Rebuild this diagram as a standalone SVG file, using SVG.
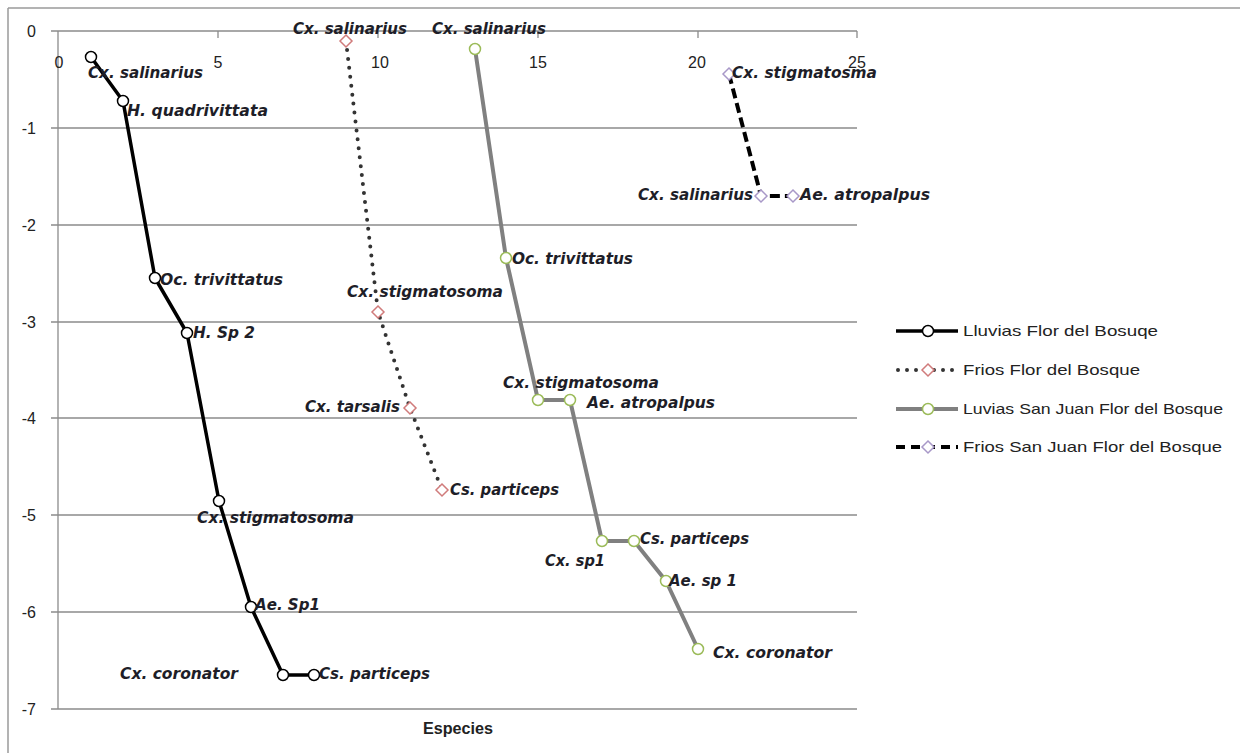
<svg xmlns="http://www.w3.org/2000/svg" width="1247" height="753" viewBox="0 0 1247 753">
<style>
.grid{stroke:#8c8c8c;stroke-width:1.3;fill:none}
.tick{font-family:"Liberation Sans",Arial,sans-serif;font-size:16px;fill:#222}
.lbl{font-family:"DejaVu Sans","Liberation Sans",sans-serif;font-size:15.5px;font-weight:bold;font-style:italic;fill:#1e1e28}
.leg{font-family:"Liberation Sans",Arial,sans-serif;font-size:15px;fill:#222}
.s1{stroke:#000;stroke-width:3.5;fill:none;stroke-linejoin:round}
.s2{stroke:#333;stroke-width:4;fill:none;stroke-dasharray:0 9;stroke-linecap:round}
.s3{stroke:#808080;stroke-width:4;fill:none;stroke-linejoin:round}
.s4{stroke:#000;stroke-width:4;fill:none;stroke-dasharray:10 5}
.m1{fill:#fff;stroke:#000;stroke-width:1.5}
.m2{fill:#fff;stroke:#d07b7b;stroke-width:1.5}
.m3{fill:#fff;stroke:#9bbb59;stroke-width:1.5}
.m4{fill:#fff;stroke:#a898c8;stroke-width:1.5}
</style>
<defs>
<circle id="c" r="5.5"/>
<path id="d" d="M0,-6 L6,0 L0,6 L-6,0 Z"/>
</defs>
<rect width="1247" height="753" fill="#fff"/>
<g id="frame">
<line x1="8" y1="8" x2="1240" y2="8" stroke="#9a9a9a" stroke-width="1.5"/>
<line x1="8" y1="8" x2="8" y2="753" stroke="#9a9a9a" stroke-width="1.5"/>
</g>
<g id="axes">
<path class="grid" d="M51,31H857M51,128H857M51,225H857M51,322H857M51,418H857M51,515H857M51,612H857M51,709H857M58,31V709M58,31V38M218,31V38M378,31V38M538,31V38M698,31V38M857,31V38"/>
<text class="tick" x="36" y="37" text-anchor="end">0</text>
<text class="tick" x="36" y="134" text-anchor="end">-1</text>
<text class="tick" x="36" y="231" text-anchor="end">-2</text>
<text class="tick" x="36" y="328" text-anchor="end">-3</text>
<text class="tick" x="36" y="424" text-anchor="end">-4</text>
<text class="tick" x="36" y="521" text-anchor="end">-5</text>
<text class="tick" x="36" y="618" text-anchor="end">-6</text>
<text class="tick" x="36" y="715" text-anchor="end">-7</text>
<text class="tick" x="59" y="68" text-anchor="middle">0</text>
<text class="tick" x="218" y="68" text-anchor="middle">5</text>
<text class="tick" x="380" y="68" text-anchor="middle">10</text>
<text class="tick" x="538" y="68" text-anchor="middle">15</text>
<text class="tick" x="697" y="68" text-anchor="middle">20</text>
<text class="tick" x="857" y="68" text-anchor="middle">25</text>
<text x="423" y="734" textLength="70" lengthAdjust="spacingAndGlyphs" style="font-family:'Liberation Sans',Arial,sans-serif;font-size:16.5px;font-weight:bold;fill:#222">Especies</text>
</g>
<g id="connectors">
<polyline class="s1" points="91,57 123,101 155,278 187,333 219,501 251,607 283,675 314,675"/>
<polyline class="s2" points="346,41 378,312 410,408 442,490"/>
<polyline class="s3" points="475,49 506,258 538,400 570,400 602,541 634,541 666,581 698,649"/>
<polyline class="s4" points="729,74 761,196 793,196"/>
</g>
<g id="series-lluvias-flor">
<use href="#c" class="m1" x="91" y="57"/><use href="#c" class="m1" x="123" y="101"/><use href="#c" class="m1" x="155" y="278"/><use href="#c" class="m1" x="187" y="333"/><use href="#c" class="m1" x="219" y="501"/><use href="#c" class="m1" x="251" y="607"/><use href="#c" class="m1" x="283" y="675"/><use href="#c" class="m1" x="314" y="675"/>
<text class="lbl" x="88" y="78" textLength="115" lengthAdjust="spacingAndGlyphs">Cx. salinarius</text>
<text class="lbl" x="127" y="116" textLength="141" lengthAdjust="spacingAndGlyphs">H. quadrivittata</text>
<text class="lbl" x="160" y="285" textLength="123" lengthAdjust="spacingAndGlyphs">Oc. trivittatus</text>
<text class="lbl" x="193" y="338" textLength="62" lengthAdjust="spacingAndGlyphs">H. Sp 2</text>
<text class="lbl" x="197" y="523" textLength="157" lengthAdjust="spacingAndGlyphs">Cx. stigmatosoma</text>
<text class="lbl" x="255" y="610" textLength="65" lengthAdjust="spacingAndGlyphs">Ae. Sp1</text>
<text class="lbl" x="120" y="679" textLength="118" lengthAdjust="spacingAndGlyphs">Cx. coronator</text>
<text class="lbl" x="319" y="679" textLength="111" lengthAdjust="spacingAndGlyphs">Cs. particeps</text>
</g>
<g id="series-frios-flor">
<use href="#d" class="m2" x="346" y="41"/><use href="#d" class="m2" x="378" y="312"/><use href="#d" class="m2" x="410" y="408"/><use href="#d" class="m2" x="442" y="490"/>
<text class="lbl" x="293" y="34" textLength="114" lengthAdjust="spacingAndGlyphs">Cx. salinarius</text>
<text class="lbl" x="347" y="297" textLength="156" lengthAdjust="spacingAndGlyphs">Cx. stigmatosoma</text>
<text class="lbl" x="305" y="412" textLength="95" lengthAdjust="spacingAndGlyphs">Cx. tarsalis</text>
<text class="lbl" x="450" y="495" textLength="109" lengthAdjust="spacingAndGlyphs">Cs. particeps</text>
</g>
<g id="series-lluvias-sanjuan">
<use href="#c" class="m3" x="475" y="49"/><use href="#c" class="m3" x="506" y="258"/><use href="#c" class="m3" x="538" y="400"/><use href="#c" class="m3" x="570" y="400"/><use href="#c" class="m3" x="602" y="541"/><use href="#c" class="m3" x="634" y="541"/><use href="#c" class="m3" x="666" y="581"/><use href="#c" class="m3" x="698" y="649"/>
<text class="lbl" x="432" y="34" textLength="114" lengthAdjust="spacingAndGlyphs">Cx. salinarius</text>
<text class="lbl" x="512" y="264" textLength="121" lengthAdjust="spacingAndGlyphs">Oc. trivittatus</text>
<text class="lbl" x="503" y="388" textLength="156" lengthAdjust="spacingAndGlyphs">Cx. stigmatosoma</text>
<text class="lbl" x="587" y="408" textLength="128" lengthAdjust="spacingAndGlyphs">Ae. atropalpus</text>
<text class="lbl" x="545" y="566" textLength="60" lengthAdjust="spacingAndGlyphs">Cx. sp1</text>
<text class="lbl" x="640" y="544" textLength="109" lengthAdjust="spacingAndGlyphs">Cs. particeps</text>
<text class="lbl" x="669" y="586" textLength="68" lengthAdjust="spacingAndGlyphs">Ae. sp 1</text>
<text class="lbl" x="713" y="658" textLength="119" lengthAdjust="spacingAndGlyphs">Cx. coronator</text>
</g>
<g id="series-frios-sanjuan">
<use href="#d" class="m4" x="729" y="74"/><use href="#d" class="m4" x="761" y="196"/><use href="#d" class="m4" x="793" y="196"/>
<text class="lbl" x="732" y="78" textLength="145" lengthAdjust="spacingAndGlyphs">Cx. stigmatosma</text>
<text class="lbl" x="638" y="200" textLength="115" lengthAdjust="spacingAndGlyphs">Cx. salinarius</text>
<text class="lbl" x="800" y="200" textLength="130" lengthAdjust="spacingAndGlyphs">Ae. atropalpus</text>
</g>
<g id="legend">
<line class="s1" x1="896" y1="331" x2="958" y2="331"/><use href="#c" class="m1" x="928" y="331"/>
<text class="leg" x="963" y="336" textLength="195" lengthAdjust="spacingAndGlyphs">Lluvias Flor del Bosuqe</text>
<line class="s2" x1="898" y1="370" x2="958" y2="370"/><use href="#d" class="m2" x="928" y="370"/>
<text class="leg" x="963" y="375" textLength="177" lengthAdjust="spacingAndGlyphs">Frios Flor del Bosque</text>
<line class="s3" x1="896" y1="409" x2="958" y2="409"/><use href="#c" class="m3" x="928" y="409"/>
<text class="leg" x="963" y="414" textLength="260" lengthAdjust="spacingAndGlyphs">Luvias San Juan Flor del Bosque</text>
<line class="s4" x1="896" y1="447" x2="958" y2="447" style="stroke-dasharray:9 6"/><use href="#d" class="m4" x="928" y="447"/>
<text class="leg" x="963" y="452" textLength="259" lengthAdjust="spacingAndGlyphs">Frios San Juan Flor del Bosque</text>
</g>
</svg>
